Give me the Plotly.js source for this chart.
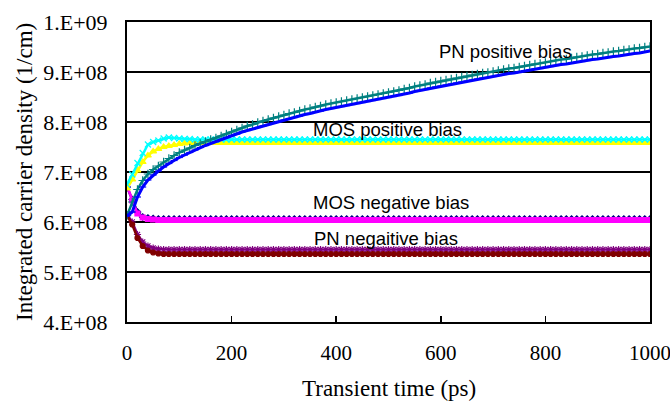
<!DOCTYPE html>
<html>
<head>
<meta charset="utf-8">
<script src="https://cdn.plot.ly/plotly-3.0.1.min.js"></script>
<style>html,body{margin:0;padding:0;background:#fff;}#chart{width:670px;height:403px;}</style>
</head>
<body>
<div id="chart"></div>
<script>
// Transient time (ps)
const time = [0,10,20,30,40,50,60,70,80,90,100,110,120,130,140,150,160,170,180,190,200,210,220,230,240,250,260,270,280,290,300,310,320,330,340,350,360,370,380,390,400,410,420,430,440,450,460,470,480,490,500,510,520,530,540,550,560,570,580,590,600,610,620,630,640,650,660,670,680,690,700,710,720,730,740,750,760,770,780,790,800,810,820,830,840,850,860,870,880,890,900,910,920,930,940,950,960,970,980,990,1000];

// Integrated carrier density, in units of 1E+08 (1/cm)
const mosNegA = [6.70,6.45,6.20,6.10,6.08,6.07,6.06,6.06,6.06,6.06,6.06,6.06,6.06,6.06,6.06,6.06,6.06,6.06,6.06,6.06,6.06,6.06,6.06,6.06,6.06,6.06,6.06,6.06,6.06,6.06,6.06,6.06,6.06,6.06,6.06,6.06,6.06,6.06,6.06,6.06,6.06,6.06,6.06,6.06,6.06,6.06,6.06,6.06,6.06,6.06,6.06,6.06,6.06,6.06,6.06,6.06,6.06,6.06,6.06,6.06,6.06,6.06,6.06,6.06,6.06,6.06,6.06,6.06,6.06,6.06,6.06,6.06,6.06,6.06,6.06,6.06,6.06,6.06,6.06,6.06,6.06,6.06,6.06,6.06,6.06,6.06,6.06,6.06,6.06,6.06,6.06,6.06,6.06,6.06,6.06,6.06,6.06,6.06,6.06,6.06,6.06];
const mosNegB = [6.72,6.43,6.17,6.09,6.06,6.05,6.04,6.04,6.04,6.04,6.04,6.04,6.04,6.04,6.04,6.04,6.04,6.04,6.04,6.04,6.04,6.04,6.04,6.04,6.04,6.04,6.04,6.04,6.04,6.04,6.04,6.04,6.04,6.04,6.04,6.04,6.04,6.04,6.04,6.04,6.04,6.04,6.04,6.04,6.04,6.04,6.04,6.04,6.04,6.04,6.04,6.04,6.04,6.04,6.04,6.04,6.04,6.04,6.04,6.04,6.04,6.04,6.04,6.04,6.04,6.04,6.04,6.04,6.04,6.04,6.04,6.04,6.04,6.04,6.04,6.04,6.04,6.04,6.04,6.04,6.04,6.04,6.04,6.04,6.04,6.04,6.04,6.04,6.04,6.04,6.04,6.04,6.04,6.04,6.04,6.04,6.04,6.04,6.04,6.04,6.04];
const mosPosA = [6.67,6.85,7.03,7.20,7.33,7.41,7.46,7.50,7.52,7.54,7.56,7.57,7.58,7.58,7.58,7.58,7.58,7.58,7.58,7.58,7.58,7.58,7.58,7.58,7.58,7.58,7.58,7.58,7.58,7.58,7.58,7.58,7.58,7.58,7.58,7.58,7.58,7.58,7.58,7.58,7.58,7.58,7.58,7.58,7.58,7.58,7.58,7.58,7.58,7.58,7.58,7.58,7.58,7.58,7.58,7.58,7.58,7.58,7.58,7.58,7.58,7.58,7.58,7.58,7.58,7.58,7.58,7.58,7.58,7.58,7.58,7.58,7.58,7.58,7.58,7.58,7.58,7.58,7.58,7.58,7.58,7.58,7.58,7.58,7.58,7.58,7.58,7.58,7.58,7.58,7.58,7.58,7.58,7.58,7.58,7.58,7.58,7.58,7.58,7.58,7.58];
const mosPosB = [6.75,6.95,7.18,7.38,7.55,7.60,7.63,7.67,7.69,7.68,7.67,7.66,7.66,7.65,7.65,7.65,7.65,7.65,7.65,7.65,7.65,7.65,7.65,7.65,7.65,7.65,7.65,7.65,7.65,7.65,7.65,7.65,7.65,7.65,7.65,7.65,7.65,7.65,7.65,7.65,7.65,7.65,7.65,7.65,7.65,7.65,7.65,7.65,7.65,7.65,7.65,7.65,7.65,7.65,7.65,7.65,7.65,7.65,7.65,7.65,7.65,7.65,7.65,7.65,7.65,7.65,7.65,7.65,7.65,7.65,7.65,7.65,7.65,7.65,7.65,7.65,7.65,7.65,7.65,7.65,7.65,7.65,7.65,7.65,7.65,7.65,7.65,7.65,7.65,7.65,7.65,7.65,7.65,7.65,7.65,7.65,7.65,7.65,7.65,7.65,7.65];
const pnNegA = [6.15,6.00,5.75,5.60,5.52,5.48,5.46,5.45,5.45,5.45,5.45,5.45,5.45,5.45,5.45,5.45,5.45,5.45,5.45,5.45,5.45,5.45,5.45,5.45,5.45,5.45,5.45,5.45,5.45,5.45,5.45,5.45,5.45,5.45,5.45,5.45,5.45,5.45,5.45,5.45,5.45,5.45,5.45,5.45,5.45,5.45,5.45,5.45,5.45,5.45,5.45,5.45,5.45,5.45,5.45,5.45,5.45,5.45,5.45,5.45,5.45,5.45,5.45,5.45,5.45,5.45,5.45,5.45,5.45,5.45,5.45,5.45,5.45,5.45,5.45,5.45,5.45,5.45,5.45,5.45,5.45,5.45,5.45,5.45,5.45,5.45,5.45,5.45,5.45,5.45,5.45,5.45,5.45,5.45,5.45,5.45,5.45,5.45,5.45,5.45,5.45];
const pnNegB = [6.13,5.95,5.68,5.52,5.43,5.39,5.37,5.36,5.36,5.36,5.36,5.36,5.36,5.36,5.36,5.36,5.36,5.36,5.36,5.36,5.36,5.36,5.36,5.36,5.36,5.36,5.36,5.36,5.36,5.36,5.36,5.36,5.36,5.36,5.36,5.36,5.36,5.36,5.36,5.36,5.36,5.36,5.36,5.36,5.36,5.36,5.36,5.36,5.36,5.36,5.36,5.36,5.36,5.36,5.36,5.36,5.36,5.36,5.36,5.36,5.36,5.36,5.36,5.36,5.36,5.36,5.36,5.36,5.36,5.36,5.36,5.36,5.36,5.36,5.36,5.36,5.36,5.36,5.36,5.36,5.36,5.36,5.36,5.36,5.36,5.36,5.36,5.36,5.36,5.36,5.36,5.36,5.36,5.36,5.36,5.36,5.36,5.36,5.36,5.36,5.36];
const pnPosA = [6.13,6.40,6.65,6.83,6.96,7.05,7.12,7.20,7.27,7.33,7.39,7.44,7.48,7.53,7.57,7.61,7.65,7.68,7.72,7.76,7.80,7.84,7.88,7.92,7.95,7.99,8.02,8.05,8.08,8.11,8.14,8.17,8.19,8.22,8.25,8.27,8.30,8.32,8.35,8.37,8.39,8.41,8.43,8.45,8.47,8.49,8.51,8.53,8.55,8.57,8.59,8.61,8.63,8.66,8.68,8.71,8.73,8.75,8.78,8.80,8.82,8.84,8.86,8.88,8.90,8.92,8.94,8.96,8.98,8.99,9.01,9.03,9.05,9.07,9.08,9.10,9.12,9.14,9.16,9.17,9.19,9.21,9.23,9.25,9.26,9.28,9.30,9.31,9.33,9.35,9.36,9.38,9.39,9.41,9.42,9.44,9.45,9.47,9.48,9.50,9.51];
const pnPosB = [6.12,6.20,6.50,6.70,6.84,6.94,7.02,7.10,7.17,7.23,7.29,7.34,7.39,7.44,7.49,7.53,7.57,7.61,7.65,7.69,7.73,7.76,7.80,7.83,7.86,7.89,7.92,7.95,7.98,8.01,8.04,8.07,8.09,8.12,8.15,8.17,8.20,8.22,8.25,8.27,8.29,8.31,8.33,8.35,8.37,8.39,8.41,8.43,8.45,8.47,8.49,8.51,8.53,8.56,8.58,8.61,8.63,8.65,8.68,8.70,8.72,8.74,8.76,8.78,8.80,8.82,8.84,8.86,8.88,8.89,8.91,8.93,8.95,8.97,8.98,9.00,9.02,9.04,9.06,9.07,9.09,9.11,9.13,9.15,9.16,9.18,9.20,9.21,9.23,9.25,9.26,9.28,9.29,9.31,9.32,9.34,9.35,9.37,9.38,9.40,9.42];

const xTickVals = [0,200,400,600,800,1000];
const yTickVals = [4,5,6,7,8,9,10];
const yTickText = ['4.E+08','5.E+08','6.E+08','7.E+08','8.E+08','9.E+08','1.E+09'];

const labelNames = ['PN positive bias','MOS positive bias','MOS negative bias','PN negaitive bias'];
const labelX = [723,498,504,496];
const labelY = [9.42,7.85,6.40,5.67];

function series(y, color, symbol, size, lw) {
  return {x: time, y: y, type: 'scatter', mode: 'lines+markers',
    line: {color: color, width: lw},
    marker: {color: color, symbol: symbol, size: size, line: {color: color, width: 1.2}},
    hoverinfo: 'skip'};
}

const data = [
  series(mosNegA, '#000080', 'diamond', 5, 2.5),
  series(mosNegB, '#FF00FF', 'square', 5, 2.5),
  series(mosPosA, '#FFFF00', 'triangle-up', 6, 2.5),
  series(mosPosB, '#00FFFF', 'x-thin-open', 6, 2.5),
  series(pnNegA, '#800080', 'asterisk-open', 6, 2.5),
  series(pnNegB, '#800000', 'circle', 5, 2.5),
  series(pnPosA, '#008080', 'cross-thin-open', 6, 2.5),
  series(pnPosB, '#0000FF', 'line-ew-open', 5, 3)
];

const serif = 'Liberation Serif, Times New Roman, serif';
const annotations = labelNames.map((t, i) => ({
  x: labelX[i], y: labelY[i], xref: 'x', yref: 'y', text: t, showarrow: false,
  font: {family: 'Liberation Sans, Arial, sans-serif', size: 18.5, color: '#000'}
}));
annotations.push({
  x: -0.197, y: 0.5, xref: 'paper', yref: 'paper', xanchor: 'center', yanchor: 'middle',
  text: 'Integrated carrier density (1/cm)', textangle: -90, showarrow: false,
  font: {family: serif, size: 23, color: '#000'}
});
annotations.push({
  x: 0.5, y: -0.222, xref: 'paper', yref: 'paper', xanchor: 'center', yanchor: 'middle',
  text: 'Transient time (ps)', showarrow: false,
  font: {family: serif, size: 23, color: '#000'}
});

const layout = {
  width: 670, height: 403,
  margin: {l: 127, r: 20, t: 22, b: 81},
  paper_bgcolor: '#fff', plot_bgcolor: '#fff',
  showlegend: false,
  font: {family: serif, color: '#000'},
  xaxis: {
    range: [0, 1000], tickvals: xTickVals, ticks: 'inside', ticklen: 6, tickwidth: 1.5, tickcolor: '#000',
    showline: true, linecolor: '#000', linewidth: 2, mirror: true, showgrid: false, zeroline: false,
    tickfont: {size: 21}, ticklabelstandoff: 11, ticklabeloverflow: 'allow'
  },
  yaxis: {
    range: [4, 10], tickvals: yTickVals, ticktext: yTickText, ticks: '',
    showline: true, linecolor: '#000', linewidth: 2, mirror: true,
    showgrid: true, gridcolor: '#000', gridwidth: 1.2, zeroline: false,
    tickfont: {size: 22}, ticklabelstandoff: 13
  },
  annotations: annotations
};

Plotly.newPlot('chart', data, layout, {displayModeBar: false, staticPlot: true});
</script>
</body>
</html>
